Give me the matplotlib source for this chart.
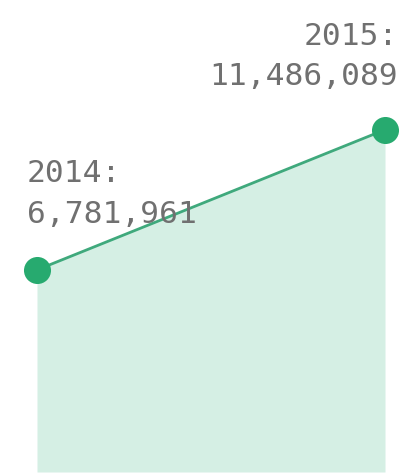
import matplotlib
matplotlib.use("Agg")
import matplotlib.pyplot as plt

years = [2014, 2015]
values = [6781961, 11486089]

W, H, DPI = 419, 476, 100
fig = plt.figure(figsize=(W / DPI, H / DPI), dpi=DPI)
ax = fig.add_axes([0, 0, 1, 1])
ax.set_axis_off()

px_per_year = 348.0
px_per_unit = 29.8 / 1e6
ax.set_xlim(2014 - 37 / px_per_year, 2015 + (W - 385) / px_per_year)
ax.set_ylim(-4 / px_per_unit, 472 / px_per_unit)

green = "#27aa6f"
fill = "#d5efe4"
line = "#3fa97c"
grey = "#707070"

ax.fill_between(years, values, 0, color=fill, lw=0, zorder=1)
ax.plot(years, values, color=line, lw=2, zorder=2)
ax.scatter(years, values, s=27**2 * 0.52, color=green, zorder=3, lw=0)

font = dict(family="DejaVu Sans Mono", fontsize=22.5, color=grey)

# 2014 label (left aligned)
ax.annotate(f"{years[0]}:", (years[0], values[0]), xytext=(-10, 88),
            textcoords="offset pixels", ha="left", va="baseline", **font)
ax.annotate(f"{values[0]:,}", (years[0], values[0]), xytext=(-10, 47),
            textcoords="offset pixels", ha="left", va="baseline", **font)
# 2015 label (right aligned)
ax.annotate(f"{years[1]}:", (years[1], values[1]), xytext=(13, 85),
            textcoords="offset pixels", ha="right", va="baseline", **font)
ax.annotate(f"{values[1]:,}", (years[1], values[1]), xytext=(13, 45),
            textcoords="offset pixels", ha="right", va="baseline", **font)

fig.savefig("out.png", dpi=DPI)
